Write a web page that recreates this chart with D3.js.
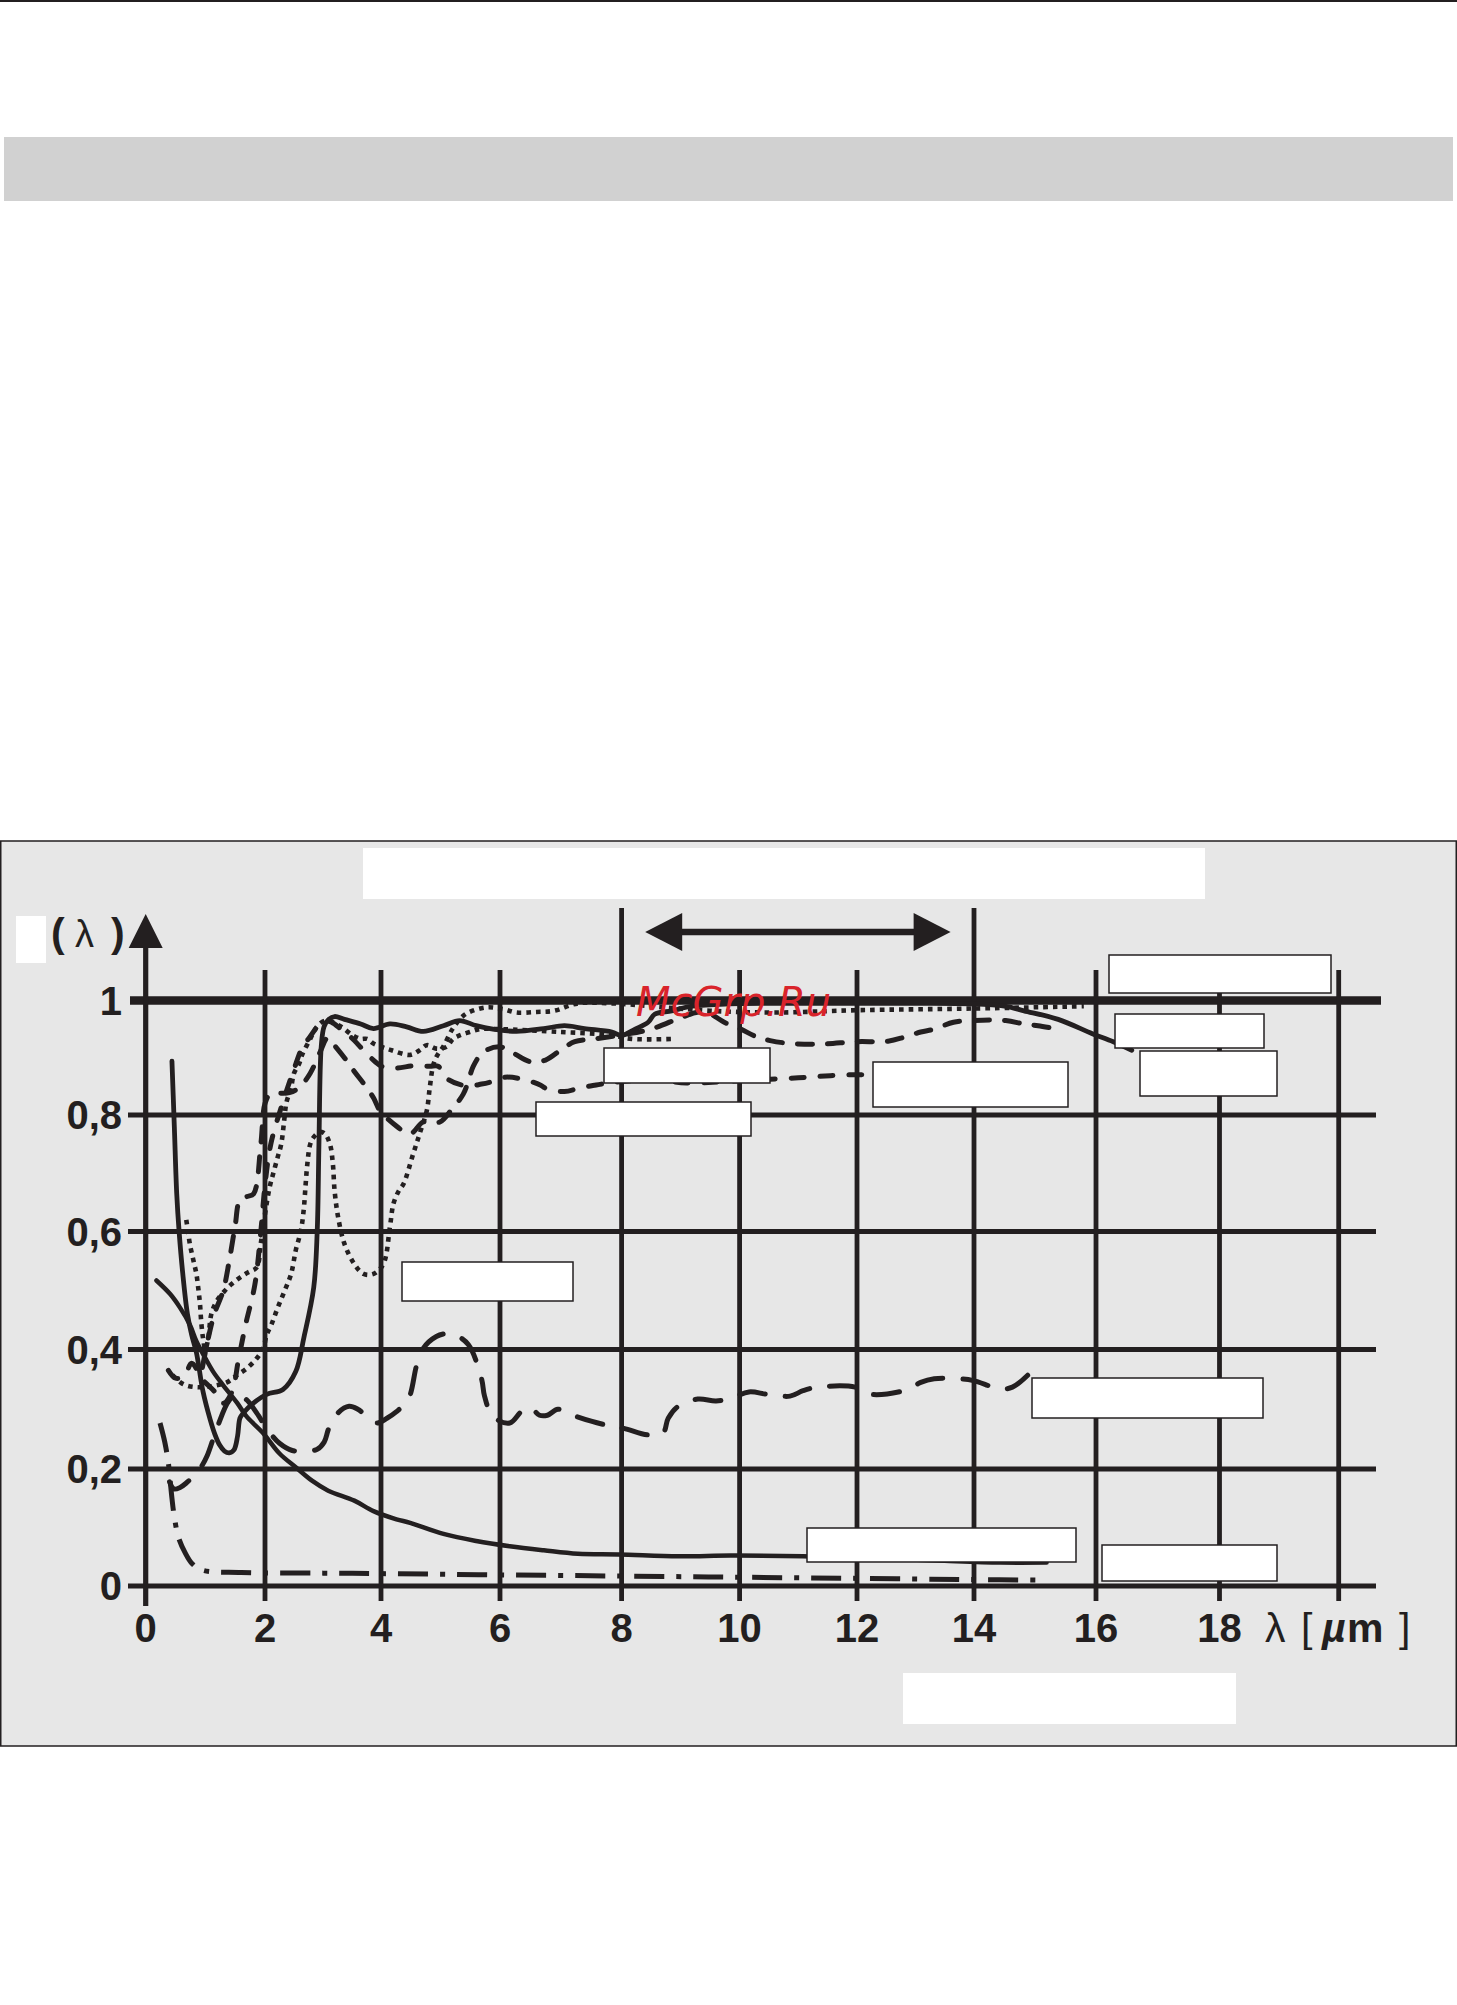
<!DOCTYPE html>
<html><head><meta charset="utf-8">
<script src="https://cdn.jsdelivr.net/npm/d3@7"></script>
<style>body{margin:0;background:#fff}svg{display:block}</style>
</head><body>
<script>
// ---------- data ----------
const xTicks = [0, 2, 4, 6, 8, 10, 12, 14, 16, 18, 20];
const xTickLabels = ["0", "2", "4", "6", "8", "10", "12", "14", "16", "18", ""];
const yTicks = [0, 0.2, 0.4, 0.6, 0.8, 1];
const yTickLabels = ["0", "0,2", "0,4", "0,6", "0,8", "1"];
const windowBand = [8.4, 13.6]; // atmospheric window arrow (µm)

const solidThick = [[0.44,0.894],[0.48,0.78],[0.52,0.665],[0.56,0.6],[0.62,0.53],[0.7,0.46],[0.77,0.425],[0.85,0.395],[0.96,0.33],[1.08,0.283],[1.16,0.258],[1.24,0.24],[1.32,0.23],[1.4,0.227],[1.48,0.232],[1.54,0.255],[1.58,0.285],[1.64,0.294],[1.8,0.31],[2.03,0.325],[2.31,0.333],[2.53,0.363],[2.67,0.42],[2.84,0.505],[2.9,0.6],[2.93,0.75],[2.97,0.92],[3.02,0.955],[3.1,0.967],[3.2,0.972],[3.37,0.967],[3.65,0.959],[3.87,0.951],[4.15,0.959],[4.43,0.954],[4.71,0.946],[5.05,0.956],[5.32,0.965],[5.6,0.956],[5.88,0.95],[6.27,0.946],[6.72,0.951],[7.06,0.956],[7.39,0.951],[7.84,0.945],[8.0,0.939],[8.23,0.95],[8.45,0.962],[8.56,0.976],[8.85,0.982],[9.2,0.99],[9.8,0.994],[11,0.995],[12,0.995],[13,0.995],[14,0.994],[14.5,0.99],[14.82,0.982],[15.38,0.967],[15.94,0.942],[16.28,0.928],[16.58,0.913]];
const solidThin = [[0.18,0.517],[0.41,0.494],[0.575,0.471],[0.74,0.442],[0.85,0.414],[0.97,0.391],[1.13,0.363],[1.3,0.34],[1.53,0.311],[1.69,0.288],[1.97,0.26],[2.25,0.226],[2.53,0.203],[2.81,0.18],[3.09,0.163],[3.54,0.146],[3.87,0.128],[4.26,0.114],[4.49,0.108],[5.05,0.089],[5.6,0.077],[6.16,0.068],[6.72,0.061],[7.28,0.055],[7.95,0.054],[8.96,0.051],[9.85,0.052],[11.08,0.051],[12.5,0.047],[13.5,0.043],[14.43,0.04],[15.19,0.04]];
const dashDot = [[0.24,0.277],[0.32,0.245],[0.38,0.21],[0.41,0.18],[0.44,0.15],[0.48,0.118],[0.55,0.083],[0.66,0.057],[0.78,0.038],[0.95,0.027],[1.6,0.023],[3,0.022],[4.2,0.021],[6,0.019],[8,0.017],[10,0.015],[12,0.013],[14,0.011],[15.15,0.01]];
const longDash = [[0.4,0.178],[0.47,0.166],[0.57,0.168],[0.68,0.176],[0.8,0.188],[0.94,0.205],[1.03,0.222],[1.2,0.27],[1.4,0.315],[1.55,0.325],[1.7,0.315],[1.86,0.294],[2.05,0.265],[2.25,0.243],[2.47,0.231],[2.7,0.23],[2.9,0.233],[3.02,0.245],[3.1,0.268],[3.26,0.294],[3.45,0.305],[3.6,0.3],[3.76,0.288],[3.93,0.277],[4.1,0.285],[4.26,0.296],[4.46,0.317],[4.6,0.374],[4.71,0.402],[4.93,0.422],[5.1,0.427],[5.24,0.425],[5.47,0.408],[5.69,0.351],[5.74,0.322],[5.88,0.288],[6.16,0.277],[6.36,0.297],[6.5,0.303],[6.65,0.29],[6.78,0.29],[6.95,0.3],[7.17,0.291],[7.5,0.28],[7.81,0.272],[8.04,0.268],[8.45,0.257],[8.7,0.26],[8.79,0.285],[8.96,0.305],[9.29,0.317],[9.6,0.314],[9.85,0.318],[10.16,0.329],[10.47,0.325],[10.86,0.322],[11.08,0.331],[11.33,0.337],[11.97,0.337],[12.23,0.325],[12.87,0.333],[13.09,0.345],[13.32,0.351],[13.74,0.351],[13.99,0.348],[14.43,0.334],[14.63,0.337],[14.88,0.357]];
const dottedA = [[0.68,0.62],[0.71,0.6],[0.74,0.579],[0.8,0.551],[0.85,0.528],[0.88,0.505],[0.91,0.477],[0.93,0.448],[0.96,0.42],[1.0,0.4],[1.05,0.42],[1.1,0.46],[1.19,0.482],[1.33,0.5],[1.44,0.511],[1.58,0.522],[1.72,0.531],[1.86,0.539],[1.93,0.58],[2.0,0.63],[2.08,0.676],[2.14,0.699],[2.22,0.728],[2.28,0.75],[2.33,0.79],[2.37,0.822],[2.45,0.848],[2.5,0.873],[2.59,0.89],[2.64,0.905],[2.78,0.933],[2.9,0.955],[3.05,0.965],[3.3,0.955],[3.5,0.94],[3.65,0.933],[3.76,0.933],[3.87,0.925],[4.01,0.919],[4.18,0.913],[4.49,0.905],[4.65,0.913],[4.77,0.922],[4.93,0.916],[5.1,0.919],[5.21,0.933],[5.32,0.939],[5.49,0.945],[5.66,0.95],[6.0,0.95],[7.0,0.945],[7.8,0.94],[8.17,0.933],[8.9,0.933]];
const dottedB = [[0.45,0.357],[0.63,0.342],[0.85,0.337],[1.13,0.339],[1.36,0.345],[1.53,0.357],[1.69,0.368],[1.86,0.385],[1.97,0.402],[2.03,0.425],[2.11,0.442],[2.22,0.471],[2.34,0.5],[2.45,0.528],[2.53,0.568],[2.62,0.602],[2.67,0.64],[2.7,0.68],[2.73,0.716],[2.78,0.75],[2.84,0.762],[2.95,0.771],[3.03,0.768],[3.12,0.75],[3.17,0.716],[3.2,0.67],[3.26,0.625],[3.37,0.579],[3.54,0.545],[3.7,0.528],[3.87,0.528],[4.04,0.545],[4.15,0.608],[4.21,0.648],[4.3,0.67],[4.38,0.682],[4.54,0.733],[4.65,0.768],[4.77,0.808],[4.82,0.848],[4.88,0.888],[4.95,0.905],[5.05,0.92],[5.2,0.95],[5.35,0.97],[5.47,0.979],[5.77,0.988],[6.05,0.985],[6.27,0.979],[6.6,0.98],[6.89,0.982],[7.28,0.995],[7.84,0.995],[8.5,0.99],[9.5,0.982],[10.6,0.979],[12,0.983],[14,0.986],[15.8,0.99]];
const dashedE = [[0.38,0.365],[0.5,0.352],[0.65,0.356],[0.77,0.377],[0.95,0.35],[1.15,0.33],[1.3,0.31],[1.45,0.33],[1.55,0.38],[1.67,0.44],[1.83,0.51],[1.93,0.6],[2.0,0.68],[2.1,0.75],[2.3,0.82],[2.5,0.88],[2.65,0.92],[2.75,0.933],[2.92,0.956],[3.05,0.965],[3.15,0.962],[3.31,0.95],[3.48,0.936],[3.7,0.913],[3.9,0.893],[4.01,0.885],[4.23,0.882],[4.57,0.886],[4.82,0.885],[4.96,0.885],[5.13,0.862],[5.44,0.851],[5.69,0.854],[5.86,0.858],[6.08,0.866],[6.39,0.862],[6.67,0.852],[6.78,0.845],[7.06,0.841],[7.34,0.848],[7.62,0.853],[7.78,0.856],[8.2,0.86],[8.7,0.86],[9.1,0.856],[10,0.86],[11,0.865],[11.8,0.87],[12.6,0.87],[13.5,0.87]];
const dashedF = [[0.95,0.37],[1.05,0.42],[1.15,0.46],[1.3,0.5],[1.4,0.55],[1.5,0.61],[1.58,0.654],[1.7,0.66],[1.81,0.665],[1.93,0.75],[2.0,0.82],[2.09,0.836],[2.42,0.839],[2.59,0.848],[2.78,0.873],[2.95,0.91],[3.08,0.935],[3.17,0.925],[3.4,0.896],[3.54,0.876],[3.73,0.851],[3.87,0.83],[3.98,0.808],[4.21,0.785],[4.49,0.768],[4.71,0.788],[4.99,0.788],[5.19,0.81],[5.38,0.836],[5.47,0.86],[5.55,0.885],[5.72,0.91],[6.0,0.919],[6.22,0.908],[6.5,0.893],[6.75,0.896],[7.03,0.916],[7.23,0.928],[7.56,0.933],[8.0,0.94],[8.5,0.95],[9.0,0.97],[9.3,0.98],[9.46,0.979],[9.74,0.962],[10.02,0.95],[10.3,0.936],[10.52,0.93],[10.86,0.925],[11.42,0.924],[11.97,0.928],[12.53,0.929],[12.81,0.936],[13.09,0.945],[13.32,0.95],[13.65,0.962],[13.99,0.965],[14.52,0.965],[14.82,0.959],[15.05,0.956],[15.38,0.95]];

// ---------- layout ----------
const W = 1457, H = 2005;
const ink = "#231f20";
const font = "'Liberation Sans', Arial, Helvetica, sans-serif";

const x = d3.scaleLinear().domain(xTicks).range([145.7, 265, 381, 500, 621.6, 739.6, 857, 974, 1096, 1219.5, 1338.7]);
const y = d3.scaleLinear().domain(yTicks).range([1586, 1469, 1349.5, 1231.5, 1115, 1000.5]);

const svg = d3.select("body").append("svg").attr("width", W).attr("height", H);

// page decoration
svg.append("rect").attr("x", 0).attr("y", 0).attr("width", W).attr("height", 2).attr("fill", ink);
svg.append("rect").attr("x", 4).attr("y", 137).attr("width", 1449).attr("height", 64).attr("fill", "#d1d1d1");

// chart panel
svg.append("rect").attr("x", 0.75).attr("y", 841).attr("width", 1455.5).attr("height", 905)
  .attr("fill", "#e7e7e7").attr("stroke", ink).attr("stroke-width", 1.5);

const grid = svg.append("g").attr("stroke", ink);
grid.selectAll("line.h").data(yTicks).join("line").attr("class", "h")
  .attr("x1", d => d === 1 ? 130 : 128).attr("x2", d => d === 1 ? 1381 : 1376)
  .attr("y1", d => y(d)).attr("y2", d => y(d))
  .attr("stroke-width", d => d === 1 ? 8.5 : 5);
grid.selectAll("line.v").data(xTicks.filter(d => d > 0)).join("line").attr("class", "v")
  .attr("x1", d => x(d)).attr("x2", d => x(d))
  .attr("y1", d => (d === 8 || d === 14) ? 908 : 970).attr("y2", 1601)
  .attr("stroke-width", 4.8);
grid.append("line").attr("x1", x(0)).attr("x2", x(0)).attr("y1", 1606).attr("y2", 940).attr("stroke-width", 5.2);
svg.append("path").attr("d", `M${x(0)},914 L${x(0)-17},948 L${x(0)+17},948 Z`).attr("fill", ink);

// double arrow (8–14 µm window)
const ax1 = x(windowBand[0]), ax2 = x(windowBand[1]), ay = 932;
svg.append("line").attr("x1", ax1 + 30).attr("x2", ax2 - 30).attr("y1", ay).attr("y2", ay)
  .attr("stroke", ink).attr("stroke-width", 6.5);
svg.append("path").attr("d", `M${ax1},${ay} L${ax1+37},${ay-19} L${ax1+37},${ay+19} Z`).attr("fill", ink);
svg.append("path").attr("d", `M${ax2},${ay} L${ax2-37},${ay-19} L${ax2-37},${ay+19} Z`).attr("fill", ink);

// curves
const line = d3.line().x(d => x(d[0])).y(d => y(d[1])).curve(d3.curveCatmullRom.alpha(0.5));
const curves = [
  {data: solidThin, w: 4.5, dash: null, cap: "round"},
  {data: dashDot, w: 5, dash: "30,12,5,12", cap: "butt"},
  {data: longDash, w: 5, dash: "26,20", cap: "round"},
  {data: dottedB, w: 4.6, dash: "4.6,5", cap: "butt"},
  {data: dottedA, w: 4.6, dash: "4.6,5", cap: "butt"},
  {data: dashedE, w: 5, dash: "13,16", cap: "round"},
  {data: dashedF, w: 5, dash: "15,15", cap: "round"},
  {data: solidThick, w: 4.8, dash: null, cap: "round"}
];
svg.append("g").selectAll("path").data(curves).join("path")
  .attr("d", d => line(d.data)).attr("fill", "none").attr("stroke", ink)
  .attr("stroke-width", d => d.w).attr("stroke-dasharray", d => d.dash)
  .attr("stroke-linecap", d => d.cap).attr("stroke-linejoin", "round");

// tick labels
svg.append("g").selectAll("text").data(yTicks).join("text")
  .attr("x", 122).attr("y", d => y(d) + 14).attr("text-anchor", "end")
  .attr("font-family", font).attr("font-weight", "bold").attr("font-size", 40).attr("fill", ink)
  .text((d, i) => yTickLabels[i]);
svg.append("g").selectAll("text").data(xTicks.slice(0, 10)).join("text")
  .attr("x", d => x(d)).attr("y", 1642).attr("text-anchor", "middle")
  .attr("font-family", font).attr("font-weight", "bold").attr("font-size", 40).attr("fill", ink)
  .text((d, i) => xTickLabels[i]);

// x axis title λ [ µm ]
const xt = svg.append("text").attr("y", 1642).attr("font-family", font).attr("font-size", 41).attr("fill", ink);
xt.append("tspan").attr("x", 1265).text("λ");
xt.append("tspan").attr("x", 1301).attr("font-weight", "normal").text("[");
xt.append("tspan").attr("x", 1322).attr("font-weight", "bold").attr("font-style", "italic").text("µ");
xt.append("tspan").attr("x", 1347).attr("font-weight", "bold").text("m");
xt.append("tspan").attr("x", 1399).attr("font-weight", "normal").text("]");

// y axis title ( λ )
const yt = svg.append("text").attr("y", 947).attr("font-family", font).attr("fill", ink);
yt.append("tspan").attr("x", 51).attr("font-size", 41).attr("font-weight", "bold").text("(");
yt.append("tspan").attr("x", 75).attr("font-size", 38).text("λ");
yt.append("tspan").attr("x", 111).attr("font-size", 41).attr("font-weight", "bold").text(")");

// blanked label boxes
const boxes = [
  [363, 848, 842, 51, false], [16, 916, 30, 47, false],
  [1109, 955, 222, 38, true], [1115, 1014, 149, 34, true], [1140, 1051, 137, 45, true],
  [873, 1062, 195, 45, true], [604, 1048, 166, 35, true], [536, 1102, 215, 34, true],
  [402, 1262, 171, 39, true], [1032, 1378, 231, 40, true], [807, 1528, 269, 34, true],
  [1102, 1545, 175, 36, true], [903, 1673, 333, 51, false]
];
svg.append("g").selectAll("rect").data(boxes).join("rect")
  .attr("x", d => d[0]).attr("y", d => d[1]).attr("width", d => d[2]).attr("height", d => d[3])
  .attr("fill", "#fff").attr("stroke", d => d[4] ? ink : "none").attr("stroke-width", 1.5);

// watermark
svg.append("text").attr("x", 636).attr("y", 1016)
  .attr("font-family", "'DejaVu Sans', sans-serif").attr("font-style", "italic")
  .attr("font-size", 40).attr("fill", "#d9242b").text("McGrp.Ru");
</script>
</body></html>
